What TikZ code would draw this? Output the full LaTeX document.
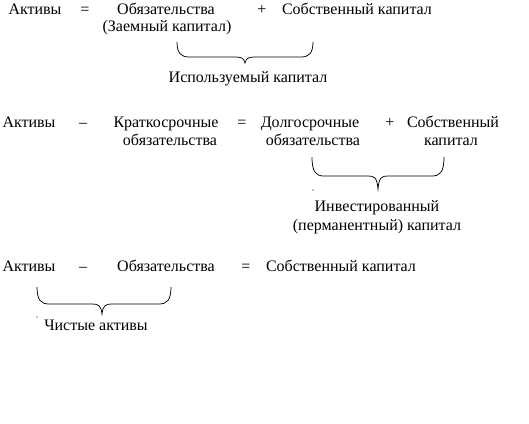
\documentclass[tikz,border=0pt]{standalone}
\usepackage{fontspec}
\setmainfont{Liberation Serif}
\newcommand\wordbrace[6]{% x1, x2, xtip, ytop, yline, ytip
  \draw[bracestyle] (#1,#4) .. controls (#1,#5-4) and (#1+4,#5) .. (#1+12,#5)
    -- (#3-10,#5) .. controls (#3-4,#5) and (#3-1,#5+1) .. (#3,#6)
    .. controls (#3+1,#5+1) and (#3+4,#5) .. (#3+10,#5)
    -- (#2-12,#5) .. controls (#2-4,#5) and (#2,#5-4) .. (#2,#4);}
\begin{document}
\begin{tikzpicture}[x=1pt,y=-1pt,
  every node/.style={inner sep=0pt,font=\fontsize{16}{19}\selectfont},
  term/.style={anchor=mid},
  bracestyle/.style={line width=0.75pt},
  tinydot/.style={fill=black,circle,inner sep=0pt,minimum size=1.3pt}]
\useasboundingbox (0,0) rectangle (529,423);
% row 1
\node[term] (a1) at (35,12) {Активы};
\node[term] (eq1) at (85,12) {=};
\node[term] (o1) at (166,12) {Обязательства};
\node[term] (z1) at (167,29) {(Заемный капитал)};
\node[term] (p1) at (262,12) {+};
\node[term] (s1) at (357,12) {Собственный капитал};
\wordbrace{177}{313}{245}{42}{57}{63}
\node[tinydot] (d1) at (179,72) {};
\node[term] (u1) at (248,80) {Используемый капитал};
% row 2
\node[term] (a2) at (29,125) {Активы};
\node[term] (m2) at (83,125) {–};
\node[term] (k2) at (166,125) {Краткосрочные};
\node[term] (k2b) at (170,143) {обязательства};
\node[term] (eq2) at (242,125) {=};
\node[term] (l2) at (310,125) {Долгосрочные};
\node[term] (l2b) at (313,143) {обязательства};
\node[term] (p2) at (390,125) {+};
\node[term] (s2) at (453,125) {Собственный};
\node[term] (s2b) at (451,143) {капитал};
\wordbrace{312}{444}{378}{157}{176}{189}
\node[tinydot] (d2) at (313,190) {};
\node[term] (i2) at (377,209) {Инвестированный};
\node[term] (i2b) at (377,228) {(перманентный) капитал};
% row 3
\node[term] (a3) at (29,269) {Активы};
\node[term] (m3) at (83,269) {–};
\node[term] (o3) at (166,269) {Обязательства};
\node[term] (eq3) at (246,269) {=};
\node[term] (s3) at (341,269) {Собственный капитал};
\wordbrace{37}{171}{102}{287}{304}{314}
\node[tinydot] (d3) at (37,317) {};
\node[term] (c3) at (96,328) {Чистые активы};
\end{tikzpicture}
\end{document}
